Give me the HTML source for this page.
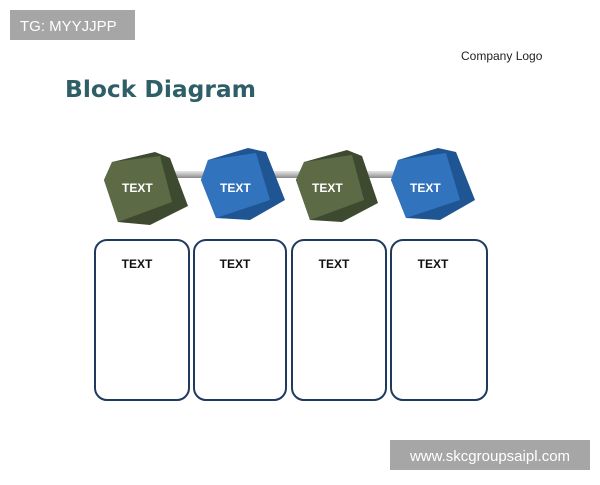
<!DOCTYPE html>
<html><head><style>
body{margin:0;width:600px;height:480px;background:#fff;overflow:hidden;font-family:"Liberation Sans",sans-serif}
</style></head><body>
<svg width="600" height="480" viewBox="0 0 600 480" xmlns="http://www.w3.org/2000/svg">
<defs>
<linearGradient id="rod" x1="0" y1="0" x2="0" y2="1"><stop offset="0" stop-color="#e6e6e6"/><stop offset="0.5" stop-color="#bbb"/><stop offset="1" stop-color="#888"/></linearGradient>
</defs>
<rect x="10" y="10" width="125" height="30" fill="#a6a6a6"/>
<text x="20" y="31" font-size="15" fill="#fff">TG: MYYJJPP</text>
<text x="461" y="60" font-size="12" fill="#222">Company Logo</text>
<text x="65" y="97" font-size="23" font-weight="bold" fill="#2e5f66" font-family="DejaVu Sans, sans-serif" textLength="191" lengthAdjust="spacingAndGlyphs">Block Diagram</text>
<rect x="162" y="171" width="55" height="7" fill="url(#rod)"/>
<rect x="262" y="171" width="45" height="7" fill="url(#rod)"/>
<rect x="355" y="171" width="45" height="7" fill="url(#rod)"/>
<g>
<polygon points="104,180 112,162 155,152 170,158 188,206 150,225 118,222" fill="#3e4a30"/>
<polygon points="104,180 112,162 160,156 172,202 118,222" fill="#5c6b46"/>
<text x="122" y="192" font-size="12" font-weight="bold" fill="#fff">TEXT</text>
</g>
<g>
<polygon points="201,180 208,160 248,148 266,152 285,200 250,220 216,218" fill="#1f5592"/>
<polygon points="201,180 208,160 256,153 270,200 216,218" fill="#3273bd"/>
<text x="220" y="192" font-size="12" font-weight="bold" fill="#fff">TEXT</text>
</g>
<g transform="translate(192,0)">
<polygon points="104,180 112,162 155,150 170,156 186,203 150,222 118,220" fill="#3e4a30"/>
<polygon points="104,180 112,162 160,155 172,200 118,220" fill="#5c6b46"/>
<text x="120" y="192" font-size="12" font-weight="bold" fill="#fff">TEXT</text>
</g>
<g transform="translate(190,0)">
<polygon points="201,180 208,160 248,148 266,152 285,200 250,220 216,218" fill="#1f5592"/>
<polygon points="201,180 208,160 256,153 270,200 216,218" fill="#3273bd"/>
<text x="220" y="192" font-size="12" font-weight="bold" fill="#fff">TEXT</text>
</g>
<g fill="none" stroke="#1f3a5f" stroke-width="2">
<rect x="95" y="240" width="94" height="160" rx="12"/>
<rect x="194" y="240" width="92" height="160" rx="12"/>
<rect x="292" y="240" width="94" height="160" rx="12"/>
<rect x="391" y="240" width="96" height="160" rx="12"/>
</g>
<g font-size="12" font-weight="bold" fill="#111" text-anchor="middle">
<text x="137" y="268">TEXT</text>
<text x="235" y="268">TEXT</text>
<text x="334" y="268">TEXT</text>
<text x="433" y="268">TEXT</text>
</g>
<rect x="390" y="440" width="200" height="30" fill="#a6a6a6"/>
<text x="490" y="461" font-size="15" fill="#fff" text-anchor="middle">www.skcgroupsaipl.com</text>
</svg>
</body></html>
